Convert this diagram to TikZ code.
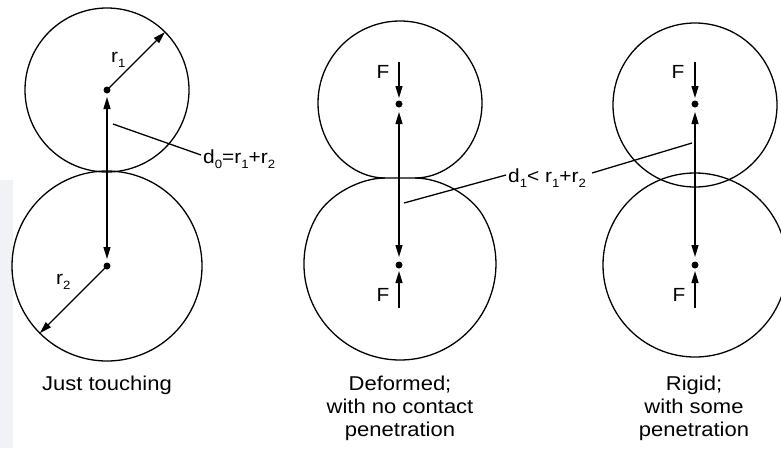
\documentclass[tikz,border=0pt]{standalone}
\usepackage{fontspec}
\setmainfont{Liberation Sans}[FakeStretch=1.1]
\usetikzlibrary{arrows.meta,calc}
\newcommand\sbs[1]{\raisebox{-0.5ex}{\fontsize{12}{12}\selectfont #1}}
\begin{document}
\begin{tikzpicture}[x=1pt,y=1pt,
  line/.style={line width=1.3pt,black},
  dot/.style={circle,fill=black,inner sep=0pt,minimum size=7pt},
  arr/.style={-{Triangle[length=12pt,width=7pt]}},
  darr/.style={{Triangle[length=12pt,width=7pt]}-{Triangle[length=12pt,width=7pt]}},
  lbl/.style={font=\fontsize{19}{21}\selectfont,inner sep=0pt},
  captxt/.style={font=\fontsize{20}{23}\selectfont,align=center,inner sep=0pt}]
\useasboundingbox (0,-448) rectangle (781,0);
\fill[fill={rgb,255:red,241;green,242;blue,245}] (0,-180) rectangle (13,-448);

% ---------- Panel 1: just touching ----------
\draw[line] (107,-90) circle[radius=82];
\draw[line] (107,-266) circle[radius=95];
\node[dot] (a1) at (107,-90) {};
\node[dot] (a2) at (107,-266) {};
\coordinate (e1) at ($(a1.center)+(45:82)$);
\coordinate (e2) at ($(a2.center)+(225:95)$);
\draw[line,arr] (a1.center) -- (e1);
\draw[line,arr] (a2.center) -- (e2);
\draw[line,darr,shorten <=7pt,shorten >=7pt] (a2.center) -- (a1.center);
\node[lbl,anchor=base west] (r1) at (111,-62) {r\sbs{1}};
\node[lbl,anchor=base west] (r2) at (56,-284) {r\sbs{2}};
\coordinate (l0a) at (113,-124);
\coordinate (l0b) at (201,-155);
\draw[line] (l0a) -- (l0b);
\node[lbl,anchor=base west] (d0) at (203,-163) {d\sbs{0}=r\sbs{1}+r\sbs{2}};
\node[captxt] (c1) at (107,-385) {Just touching};

% ---------- Panel 2: deformed ----------
\draw[line] (385,-178) -- (415,-178) .. controls (440,-178) and (461,-161.3) .. (471,-144)
  arc[start angle=-30,end angle=210,radius=82]
  .. controls (339,-161.3) and (360,-178) .. cycle;
\draw[line] (415,-178) .. controls (440,-178) and (470.6,-194.4) .. (483.1,-216)
  arc[start angle=30,end angle=-210,radius=96]
  .. controls (329.4,-194.4) and (360,-178) .. (385,-178);
\node[dot] (b1) at (399,-104) {};
\node[dot] (b2) at (399,-265) {};
\coordinate (bf1) at (399,-62);
\coordinate (bf2) at (399,-308);
\draw[line,arr,shorten >=6pt] (bf1) -- (b1.center);
\draw[line,arr,shorten >=6pt] (bf2) -- (b2.center);
\draw[line,darr,shorten <=8pt,shorten >=8pt] (b2.center) -- (b1.center);
\node[lbl] (F1) at (383,-72) {F};
\node[lbl] (F2) at (383,-295) {F};
\coordinate (l1a) at (404,-203);
\coordinate (l1b) at (506,-175);
\draw[line] (l1a) -- (l1b);
\node[lbl,anchor=base west] (d1) at (508,-182) {d\sbs{1}< r\sbs{1}+r\sbs{2}};
\node[captxt,anchor=north] (c2) at (400,-376) {Deformed;\\with no contact\\penetration};

% ---------- Panel 3: rigid ----------
\draw[line] (695,-105) circle[radius=82];
\draw[line] (695,-265) circle[radius=92];
\node[dot] (g1) at (695,-104) {};
\node[dot] (g2) at (695,-265) {};
\coordinate (gf1) at (695,-62);
\coordinate (gf2) at (695,-308);
\draw[line,arr,shorten >=6pt] (gf1) -- (g1.center);
\draw[line,arr,shorten >=6pt] (gf2) -- (g2.center);
\draw[line,darr,shorten <=8pt,shorten >=8pt] (g2.center) -- (g1.center);
\node[lbl] (F3) at (678,-72) {F};
\node[lbl] (F4) at (679,-295) {F};
\coordinate (l2a) at (592,-173);
\coordinate (l2b) at (692,-143);
\draw[line] (l2a) -- (l2b);
\node[captxt,anchor=north] (c3) at (694,-376) {Rigid;\\with some\\penetration};
\end{tikzpicture}
\end{document}
